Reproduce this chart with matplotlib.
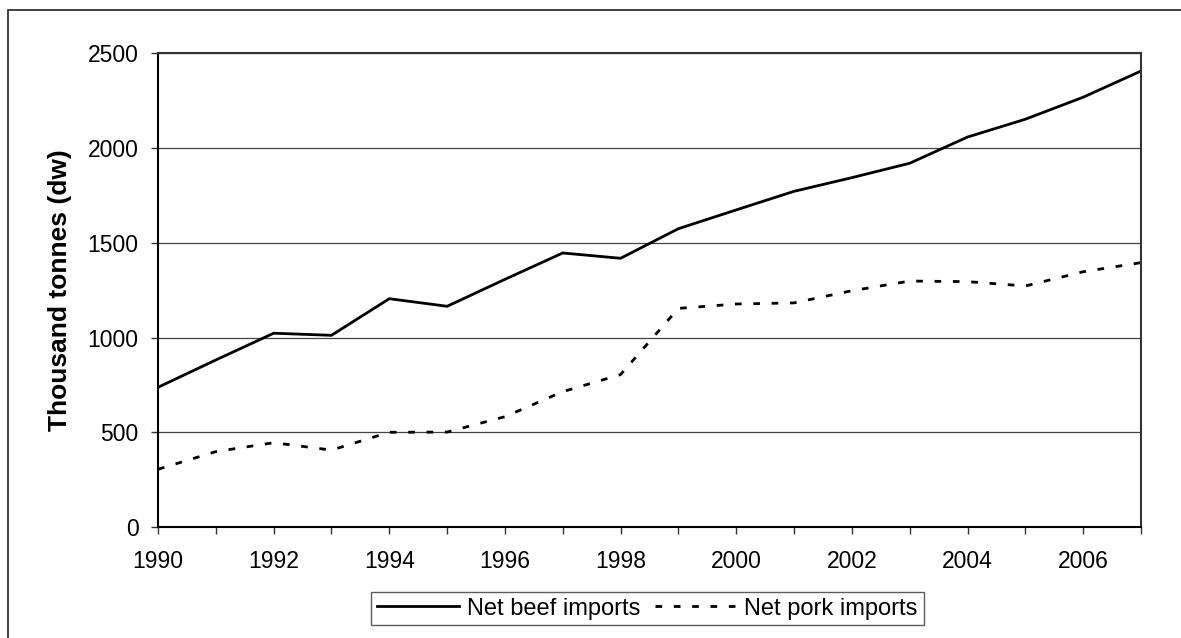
import matplotlib
matplotlib.use("Agg")
import matplotlib.pyplot as plt
from matplotlib.patches import Rectangle
from matplotlib.ticker import MultipleLocator

years = list(range(1990, 2008))
beef_imports = [738, 882, 1023, 1012, 1205, 1165, 1307, 1446, 1418, 1574,
                1673, 1771, 1843, 1919, 2057, 2151, 2267, 2405]
pork_imports = [306, 399, 446, 407, 501, 502, 583, 715, 805, 1154,
                1177, 1183, 1247, 1298, 1295, 1272, 1347, 1395]

plt.rcParams["font.family"] = ["Liberation Sans", "DejaVu Sans"]
plt.rcParams["lines.scale_dashes"] = False

fig = plt.figure(figsize=(11.81, 6.38), dpi=100)
ax = fig.add_axes([0.1338, 0.1735, 0.8323, 0.7434])

# outer frame of the chart area (runs off the right and bottom edges)
fig.patches.append(
    Rectangle((8 / 1181, -0.2), 1.2, 0.2 + 1 - 10 / 638,
              transform=fig.transFigure, fill=False,
              edgecolor="#333333", linewidth=1.3)
)

ax.plot(years, beef_imports, color="black", linewidth=2.0,
        label="Net beef imports", solid_joinstyle="miter")
ax.plot(years, pork_imports, color="black", linewidth=2.0,
        linestyle=(0, (4.8, 8.4)), label="Net pork imports")

ax.set_xlim(1990, 2007)
ax.set_ylim(0, 2500)
ax.xaxis.set_major_locator(MultipleLocator(2))
ax.xaxis.set_minor_locator(MultipleLocator(1))
ax.yaxis.set_major_locator(MultipleLocator(500))

ax.yaxis.grid(True, color="#444444", linewidth=0.9)
ax.set_axisbelow(True)

for side in ["left", "bottom"]:
    ax.spines[side].set_color("black")
    ax.spines[side].set_linewidth(1.5)
for side in ["top", "right"]:
    ax.spines[side].set_color("#333333")
    ax.spines[side].set_linewidth(1.5)

ax.tick_params(axis="x", which="both", direction="out", length=5,
               width=1, color="#333333", labelsize=16.5, pad=11)
ax.tick_params(axis="y", direction="out", length=5, width=1,
               color="#333333", labelsize=16.5, pad=9)

ax.set_ylabel("Thousand tonnes (dw)", fontsize=19, fontweight="bold",
              labelpad=11)

leg = fig.legend(loc="center", bbox_to_anchor=(0.5483, 0.0462), ncol=2,
                 fontsize=17, frameon=True, fancybox=False,
                 handlelength=3.45, handletextpad=0.35, columnspacing=0.6,
                 borderpad=0.25, borderaxespad=0)
leg.get_frame().set_edgecolor("#333333")
leg.get_frame().set_linewidth(1.0)

fig.savefig("out.png", dpi=100)
